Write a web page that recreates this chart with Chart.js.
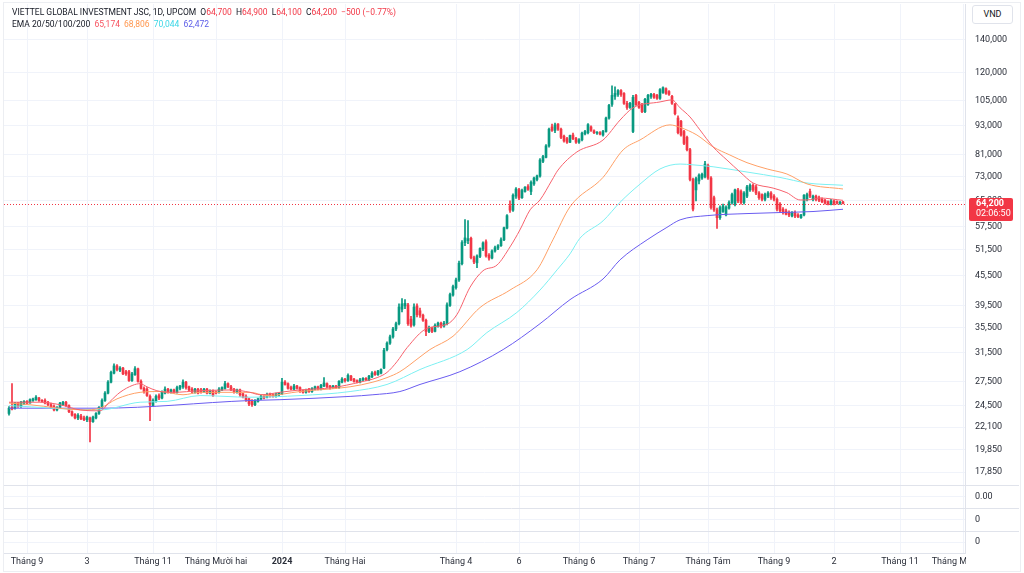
<!DOCTYPE html>
<html><head><meta charset="utf-8">
<script src="https://cdn.jsdelivr.net/npm/chart.js@4.4.1/dist/chart.umd.min.js"></script>
<style>
html,body{margin:0;padding:0;background:#fff;}
#wrap{position:relative;width:1024px;height:573px;overflow:hidden;font-family:Roboto,'Liberation Sans',sans-serif;}
#c{position:absolute;left:0;top:0;}
.leg{position:absolute;left:12px;font-size:8.5px;color:#131722;white-space:nowrap;line-height:11px;}
.leg span{margin-left:2px;}
.leg span.v{margin-left:0;}
.r{color:#f23645;}
#vnd{position:absolute;left:972px;top:5px;width:39px;height:17px;border:1px solid #e0e3eb;border-radius:3px;font-size:9px;line-height:17px;text-align:center;color:#131722;background:#fff;}
#frame{position:absolute;left:3px;top:2px;width:1016px;height:568px;border:1px solid #eceef2;pointer-events:none;}
</style></head>
<body>
<div id="wrap">
<canvas id="c" width="1024" height="573"></canvas>
<div id="frame"></div>
<div class="leg" style="top:7px">VIETTEL GLOBAL INVESTMENT JSC, 1D, UPCOM <span>O</span><span class="v r">64,700</span> <span>H</span><span class="v r">64,900</span> <span>L</span><span class="v r">64,100</span> <span>C</span><span class="v r">64,200</span> <span class="r">−500 (−0.77%)</span></div>
<div class="leg" style="top:19px">EMA 20/50/100/200 <span style="color:#f7525f">65,174</span> <span style="color:#ff9850">68,806</span> <span style="color:#3ad6e6">70,044</span> <span style="color:#5b5ce8">62,472</span></div>
<div id="vnd">VND</div>
</div>
<script>
// daily candles, thousand VND: [open, high, low, close]
const ohlc = [
[23.6,24.4,23.4,24.2],[24.3,27.2,24.0,24.1],[24.2,24.9,24.1,24.8],[24.8,24.9,24.3,24.4],[24.4,25.0,24.3,24.9],
[24.8,25.1,24.6,25.0],[25.0,25.1,24.7,24.8],[24.8,25.3,24.8,25.2],[25.1,25.4,25.0,25.3],[25.2,25.7,25.1,25.5],
[25.4,25.5,25.0,25.1],[25.1,25.2,24.9,25.0],[25.1,25.3,24.7,24.8],[24.9,25.0,24.5,24.6],[24.6,24.8,24.2,24.3],
[24.4,24.6,23.9,24.0],[24.0,24.4,23.9,24.3],[24.3,24.9,24.2,24.8],[24.6,25.0,24.5,24.9],[24.9,25.0,24.4,24.5],
[24.5,24.6,23.7,23.8],[23.8,23.9,23.3,23.4],[23.5,23.6,23.0,23.1],[23.1,23.6,22.9,23.4],[23.3,23.5,22.9,23.0],
[23.1,23.3,22.8,22.9],[22.9,23.3,22.7,23.2],[23.1,23.2,20.6,22.7],[22.7,23.3,22.6,23.2],[23.1,23.7,23.0,23.6],
[23.6,24.4,23.5,24.3],[24.3,25.3,24.2,25.1],[25.1,26.2,25.0,26.0],[26.0,27.6,25.9,27.4],[27.4,28.9,27.3,28.7],
[28.6,29.9,28.5,29.6],[29.6,29.8,28.9,29.1],[29.0,29.5,28.8,29.3],[29.3,29.4,28.4,28.5],[28.8,29.0,28.3,28.5],
[28.8,29.0,27.5,27.6],[27.6,28.7,27.5,28.5],[28.4,29.5,28.3,29.2],[29.2,29.3,27.4,27.5],[27.5,27.7,26.5,26.6],
[26.6,26.8,26.0,26.2],[26.5,26.7,25.6,25.7],[25.6,25.8,22.8,24.7],[24.5,25.3,24.4,25.1],[25.0,25.8,24.9,25.6],
[25.7,25.9,25.2,25.4],[25.4,26.3,25.3,26.1],[26.0,26.8,25.9,26.5],[26.5,26.6,26.0,26.2],[26.2,26.5,26.0,26.4],
[26.4,26.5,26.0,26.1],[26.1,26.9,26.0,26.7],[26.6,27.0,26.4,26.9],[26.8,27.7,26.6,27.4],[27.4,27.5,26.5,26.7],
[26.8,26.9,26.3,26.4],[26.5,26.7,26.0,26.2],[26.1,26.6,26.0,26.5],[26.5,26.6,25.9,26.0],[26.4,26.6,26.0,26.2],
[26.2,26.6,26.1,26.5],[26.5,26.6,25.9,26.0],[26.0,26.4,25.9,26.3],[26.3,26.4,25.6,25.7],[26.1,26.3,25.9,26.0],
[26.1,26.7,26.0,26.5],[26.4,26.8,26.3,26.7],[26.6,27.5,26.5,27.2],[27.2,27.3,26.7,26.8],[26.8,27.0,26.3,26.4],
[26.5,26.6,26.0,26.2],[26.1,26.5,26.0,26.4],[26.4,26.5,25.6,25.8],[25.9,26.0,25.4,25.5],[25.6,25.8,25.0,25.2],
[25.3,25.4,24.5,24.7],[25.0,25.2,24.4,24.6],[24.6,25.2,24.5,25.1],[25.0,25.4,24.9,25.3],[25.3,25.8,25.2,25.6],
[25.6,25.7,25.3,25.4],[25.5,26.0,25.4,25.8],[25.9,26.0,25.5,25.7],[25.8,25.9,25.5,25.6],[25.6,26.0,25.5,25.9],
[25.8,26.1,25.6,26.0],[25.9,27.9,25.8,27.4],[27.4,27.6,27.0,27.1],[27.2,27.3,26.5,26.6],[26.7,26.9,26.4,26.5],
[26.5,27.1,26.4,26.9],[26.9,27.0,26.5,26.6],[26.7,26.8,26.1,26.2],[26.3,26.4,26.0,26.1],[26.1,26.5,26.0,26.4],
[26.5,26.6,26.1,26.2],[26.2,26.7,26.1,26.6],[26.5,26.9,26.4,26.8],[26.8,26.9,26.4,26.5],[26.5,27.1,26.4,27.0],
[26.9,28.0,26.8,27.3],[27.2,27.3,26.7,26.8],[26.9,27.0,26.5,26.7],[26.7,27.0,26.6,26.9],[26.9,27.0,26.6,26.7],
[26.7,27.6,26.6,27.5],[27.4,28.0,27.3,27.8],[27.8,27.9,27.4,27.6],[27.6,28.5,27.5,28.3],[28.2,28.3,27.6,27.7],
[27.8,27.9,27.4,27.5],[27.6,27.7,27.3,27.4],[27.4,27.9,27.3,27.7],[27.7,28.0,27.6,27.9],[27.9,28.0,27.6,27.7],
[27.7,28.3,27.6,28.2],[28.1,28.8,28.0,28.6],[28.7,28.9,28.3,28.4],[28.4,29.0,28.3,28.9],[28.6,29.2,28.5,29.1],
[29.3,32.2,29.2,31.9],[32.0,33.2,31.8,33.0],[33.0,34.3,32.8,34.0],[34.0,35.6,33.8,35.3],[35.3,36.5,35.0,36.2],
[36.2,39.8,36.0,39.2],[38.8,40.8,38.3,39.8],[39.4,40.6,38.9,39.9],[39.6,39.9,35.9,36.2],[37.0,37.5,35.6,35.9],
[36.0,39.8,35.8,39.2],[39.4,39.8,37.4,37.8],[38.5,39.0,37.3,37.7],[37.7,37.9,36.6,36.8],[36.8,37.0,34.2,34.9],
[34.9,35.8,34.7,35.5],[35.5,35.6,34.7,34.9],[34.9,36.2,34.8,35.9],[35.8,36.5,35.6,36.3],[36.3,36.5,35.5,35.8],
[35.8,36.6,35.6,36.3],[36.3,40.0,36.0,39.6],[39.5,41.9,39.3,41.6],[41.5,43.5,41.3,43.2],[43.0,45.0,42.7,44.6],
[44.6,48.8,44.3,48.3],[48.2,53.8,47.9,53.3],[53.3,59.5,52.5,54.5],[53.8,59.2,53.0,54.3],[54.4,54.7,49.3,49.6],
[49.6,50.0,48.2,48.6],[48.4,50.3,47.3,50.0],[49.9,52.0,49.6,51.8],[51.7,53.5,51.3,53.2],[53.5,54.0,49.7,50.0],
[50.2,50.6,49.0,49.5],[49.5,51.5,49.3,51.2],[51.2,52.4,50.9,52.0],[51.9,52.8,51.5,52.5],[52.5,54.5,52.3,54.0],
[54.0,57.4,53.8,57.2],[57.1,60.9,56.9,60.6],[63.5,65.0,61.5,62.2],[62.2,67.2,61.8,66.8],[66.5,69.3,65.8,68.8],
[68.6,69.0,65.4,65.9],[66.0,68.8,65.8,68.3],[68.0,69.6,67.8,69.4],[69.6,70.3,68.3,68.7],[68.0,71.5,67.0,71.0],
[70.5,72.8,70.0,72.5],[72.0,73.5,71.5,73.2],[73.2,79.5,72.8,79.0],[78.5,80.8,78.0,80.3],[80.0,85.0,79.8,84.5],
[84.5,92.0,84.0,91.5],[92.5,93.8,90.5,91.0],[91.0,94.2,90.0,93.4],[93.8,94.0,91.0,91.5],[91.5,92.0,87.5,88.0],
[88.5,89.0,86.0,86.5],[87.5,88.0,85.5,86.0],[86.0,89.0,85.8,88.8],[89.0,89.8,87.0,87.5],[87.5,88.0,85.5,86.0],
[86.0,87.5,85.5,87.0],[87.0,90.2,86.5,89.8],[89.5,91.0,89.0,90.5],[90.0,94.0,89.5,93.5],[92.5,93.0,90.5,91.0],
[90.8,91.2,89.6,90.0],[89.8,90.5,89.3,90.2],[90.0,90.5,89.0,89.4],[89.0,91.0,88.5,90.5],[90.5,97.0,90.2,96.5],
[96.5,103.0,96.0,102.5],[103.0,112.5,102.0,107.5],[107.0,112.0,105.5,108.5],[108.0,110.5,107.0,110.0],[110.0,110.5,107.0,108.0],
[108.5,109.0,103.0,103.5],[103.5,104.5,100.5,101.5],[101.5,104.0,101.0,103.5],[90.5,107.5,90.0,106.5],[107.5,108.0,102.5,102.8],
[104.0,104.5,101.0,101.5],[103.0,103.5,99.0,99.5],[99.5,106.0,99.0,105.5],[103.0,108.0,102.5,107.5],[107.0,108.5,106.0,108.0],
[108.0,108.5,106.0,106.5],[107.5,108.0,105.5,106.0],[106.0,111.0,105.5,110.5],[109.0,112.0,108.5,111.5],[111.0,111.5,108.0,108.5],
[109.5,110.0,107.5,108.0],[107.0,107.5,103.0,103.5],[103.0,103.5,98.0,98.5],[96.5,97.5,89.5,90.0],[95.0,95.5,88.5,89.0],
[90.5,91.0,85.0,85.5],[88.0,88.5,82.5,83.0],[83.0,83.5,71.5,72.0],[72.0,72.5,62.0,62.5],[68.5,72.8,65.0,72.3],
[71.5,74.0,70.5,73.5],[72.5,74.2,72.0,73.8],[73.0,78.5,72.5,77.5],[77.0,77.5,72.0,72.5],[72.5,73.0,62.5,63.0],
[66.0,66.5,61.8,62.3],[62.3,62.8,57.0,60.0],[60.0,63.5,59.5,63.0],[61.8,64.0,61.5,63.5],[60.8,63.5,60.5,63.0],
[62.8,65.0,62.5,64.5],[64.5,67.5,64.0,67.0],[64.0,68.8,63.5,68.5],[68.5,69.0,64.5,65.0],[68.0,68.5,64.0,64.5],
[64.5,68.0,64.0,67.5],[66.5,70.0,66.0,69.5],[68.5,70.5,68.0,70.0],[70.0,70.5,68.0,68.5],[69.5,70.0,67.0,67.5],
[67.5,68.0,65.5,66.0],[67.0,67.2,65.0,65.5],[65.5,67.5,65.0,67.0],[66.5,68.0,66.0,67.5],[67.5,68.0,65.5,66.0],
[66.5,67.0,65.0,65.5],[65.5,66.0,62.0,62.5],[64.0,64.5,61.5,62.0],[62.5,63.0,61.0,61.5],[62.0,62.5,60.8,61.0],
[61.5,62.0,60.3,60.8],[60.5,61.8,60.2,61.5],[61.5,62.0,60.0,60.5],[60.8,61.2,60.0,60.3],[60.0,61.0,59.8,60.8],
[60.8,67.0,60.5,66.8],[65.5,67.5,65.0,67.0],[68.0,68.8,66.0,66.5],[65.5,66.8,65.0,66.5],[66.5,66.8,65.0,65.5],
[66.0,66.5,64.8,65.2],[65.5,66.0,64.5,64.8],[65.2,65.5,64.0,64.3],[64.8,65.0,63.8,64.0],[64.0,65.5,63.8,65.0],
[65.0,65.3,63.8,64.2],[64.8,65.0,64.0,64.3],[64.2,64.9,63.9,64.6],[64.7,64.9,64.1,64.2]
];
// EMA readings [bar index, thousand VND]
const ema20 = [[0,24.9],[10.3,24.9],[17,24.6],[23.7,24.0],[30.3,23.9],[33.7,25.0],[37,26.1],[41.3,27.0],[43.7,27.2],[46,26.8],[49.3,26.3],[54.7,26.1],[63.7,26.3],[74.7,26.4],[80.3,26.1],[83.7,25.8],[90.3,26.1],[97,26.4],[108,26.7],[117,27.4],[122.7,28.0],[126,28.7],[129.3,30.2],[132.7,32.3],[139.3,35.4],[146,36.1],[149.3,37.8],[153.7,43.1],[158,46.6],[162.7,47.9],[167,52.2],[170.3,56.6],[173.7,62.3],[177,65.3],[181,71.8],[183,75.3],[189.3,82.1],[198,86.9],[203.7,95.6],[208,101.3],[217,104.2],[221,105.2],[223.7,101.3],[227,97.0],[230.3,91.2],[234.7,84.1],[239.3,79.0],[243.7,74.6],[248,70.8],[254.7,69.1],[259.3,67.6],[263.7,65.3],[266,65.3],[270.3,65.9],[278,65.174]];
const ema50 = [[0,24.8],[7,24.6],[24.7,24.0],[30.3,24.2],[36,25.3],[43.7,26.1],[50.3,26.2],[58,25.8],[63.7,26.1],[80.3,26.1],[86,25.7],[97,26.2],[113.7,26.8],[121.3,27.4],[126,28.0],[130.3,28.8],[137,30.9],[140.3,32.0],[148,34.1],[157,39.1],[167,42.5],[176,46.8],[181.3,54.0],[187,63.2],[198,72.7],[204.7,82.9],[210.3,86.9],[220.3,93.4],[223.7,92.3],[229.3,89.0],[234.7,84.1],[240.3,80.9],[246,78.0],[252.7,75.7],[259.3,73.9],[266,70.5],[278,68.806]];
const ema100 = [[0,24.5],[30.3,24.0],[43.7,24.9],[52.7,25.0],[63.7,25.7],[80.3,25.5],[97,25.7],[113.7,26.2],[126,27.1],[137,29.1],[152.7,32.0],[159.3,34.7],[169.3,38.2],[177,42.5],[182.7,46.8],[187,50.5],[190.3,54.4],[198,59.1],[203.7,64.6],[210.3,70.4],[217,75.7],[223.7,77.5],[228,77.2],[234.7,76.5],[246,74.6],[257,72.7],[266,70.8],[278,70.044]];
const ema200 = [[0,24.2],[30.3,24.2],[80.3,25.1],[90.3,25.2],[113.7,25.6],[121.3,25.8],[130.3,26.2],[137,27.1],[150.3,28.8],[164.7,32.0],[177,36.2],[187,40.6],[198,44.8],[203.7,49.1],[212.7,54.0],[219.3,57.3],[223.7,59.4],[232.7,60.6],[246,61.2],[257,61.5],[268,61.8],[278,62.472]];
const priceTicks = [140,120,105,93,81,73,65,57.5,51.5,45.5,39.5,35.5,31.5,27.5,24.5,22.1,19.85,17.85];
const priceTickLabels = ['140,000','120,000','105,000','93,000','81,000','73,000','65,000','57,500','51,500','45,500','39,500','35,500','31,500','27,500','24,500','22,100','19,850','17,850'];
const timeTicks = [6,26,48,69,91,112,149,170,190,210,233,255,275,297,318];
const timeTickLabels = ['Tháng 9','3','Tháng 11','Tháng Mười hai','2024','Tháng Hai','Tháng 4','6','Tháng 6','Tháng 7','Tháng Tám','Tháng 9','2','Tháng 11','Tháng Mười hai'];
const lastClose = 64.2;
const lastCloseLabel = '64,200';
const countdown = '02:06:50';

const UP = '#089981', DOWN = '#f23645';
const candleColors = ohlc.map(r => r[3] >= r[0] ? UP : DOWN);
const FONT = 'Roboto';
const GRID = '#f0f3fa', BORDER = '#e0e3eb', TXT = '#2a2e39';

const fitY = s => { s.width = 54; s.paddingTop = 0; s.paddingBottom = 0; };
const paneAxis = (label, w) => ({
  type:'linear', position:'right', stack:'panes', stackWeight:w, min:-1, max:1, bounds:'data',
  afterBuildTicks: s => { s.ticks = [{value:0}]; }, afterFit: fitY,
  ticks:{callback:()=>label, padding:10, color:TXT, font:{size:9, family:FONT}, autoSkip:false},
  grid:{color:GRID, drawTicks:false}, border:{color:BORDER}
});
const lineDs = (pts, color) => ({
  type:'line', data: pts.map(p => ({x:p[0], y:p[1]})), borderColor: color, borderWidth:1,
  pointRadius:0, cubicInterpolationMode:'monotone', fill:false, order:1, yAxisID:'y'
});

const decor = {
  id:'decor',
  afterDatasetsDraw(chart){
    const {ctx, chartArea, scales} = chart;
    const py = Math.round(scales.y.getPixelForValue(lastClose)) + 0.5;
    ctx.save();
    ctx.strokeStyle = DOWN; ctx.lineWidth = 1; ctx.setLineDash([1,2]);
    ctx.beginPath(); ctx.moveTo(chartArea.left, py); ctx.lineTo(chartArea.right, py); ctx.stroke();
    ctx.restore();
  },
  afterDraw(chart){
    const {ctx, chartArea, scales} = chart;
    ctx.save();
    ctx.fillStyle = '#fff';
    ctx.fillRect(chartArea.right + 1, chartArea.bottom + 1, 1024 - chartArea.right, 573 - chartArea.bottom);
    ctx.strokeStyle = BORDER; ctx.lineWidth = 1;
    ['p1','p2','p3'].forEach(k => {
      const t = Math.round(scales[k].top) + 0.5;
      ctx.beginPath(); ctx.moveTo(chartArea.left, t); ctx.lineTo(1019, t); ctx.stroke();
    });
    const py = Math.round(scales.y.getPixelForValue(lastClose));
    ctx.fillStyle = DOWN;
    ctx.beginPath(); ctx.roundRect(969, py - 6, 44, 23, 2); ctx.fill();
    ctx.fillStyle = '#fff'; ctx.textBaseline = 'middle'; ctx.textAlign = 'left';
    ctx.font = 'bold 9px ' + FONT; ctx.fillText(lastCloseLabel, 976, py);
    ctx.font = '9px ' + FONT; ctx.fillText(countdown, 976, py + 10);
    ctx.restore();
  }
};

new Chart(document.getElementById('c'), {
  type:'bar',
  data:{ datasets:[
    lineDs(ema20, '#f7626d'), lineDs(ema50, '#ffa066'), lineDs(ema100, '#7cf0f2'), lineDs(ema200, '#6a5cf0'),
    { type:'bar', data: ohlc.map((r,i)=>({x:i, y:[r[2], r[1]]})), backgroundColor:candleColors,
      barThickness:1, grouped:false, order:3, yAxisID:'y' },
    { type:'bar', data: ohlc.map((r,i)=>({x:i, y:[Math.min(r[0],r[3]), Math.max(r[0],r[3])]})), backgroundColor:candleColors,
      barThickness:2, minBarLength:1, grouped:false, order:2, yAxisID:'y' }
  ]},
  options:{
    responsive:false, animation:false, devicePixelRatio:1,
    layout:{padding:{left:4, top:4, right:5, bottom:0}},
    plugins:{legend:{display:false}, tooltip:{enabled:false}},
    scales:{
      x:{type:'linear', position:'bottom', min:-5/3, max:320.33-5/3, offset:false, bounds:'data',
        afterBuildTicks: s => { s.ticks = timeTicks.map(v => ({value:v})); },
        afterFit: s => { s.height = 20; },
        ticks:{autoSkip:false, maxRotation:0, padding:3, color:TXT,
          font: c => ({size:9, family:FONT, weight: (c.tick && c.tick.label === '2024') ? 'bold' : 'normal'}),
          callback:(v,i) => timeTickLabels[i]},
        grid:{color:GRID, drawTicks:false, offset:false}, border:{color:BORDER}},
      y:{type:'logarithmic', position:'right', stack:'panes', stackWeight:481, min:16.78, max:166.2, bounds:'data',
        afterBuildTicks: s => { s.ticks = priceTicks.map(v => ({value:v})); }, afterFit: fitY,
        ticks:{callback:(v,i) => priceTickLabels[i], padding:10, color:TXT, font:{size:9, family:FONT}, autoSkip:false},
        grid:{color:GRID, drawTicks:false}, border:{color:BORDER}},
      p1: paneAxis('0.00', 23),
      p2: paneAxis('0', 23),
      p3: paneAxis('0', 22)
    }
  },
  plugins:[decor]
});
</script>
</body></html>
